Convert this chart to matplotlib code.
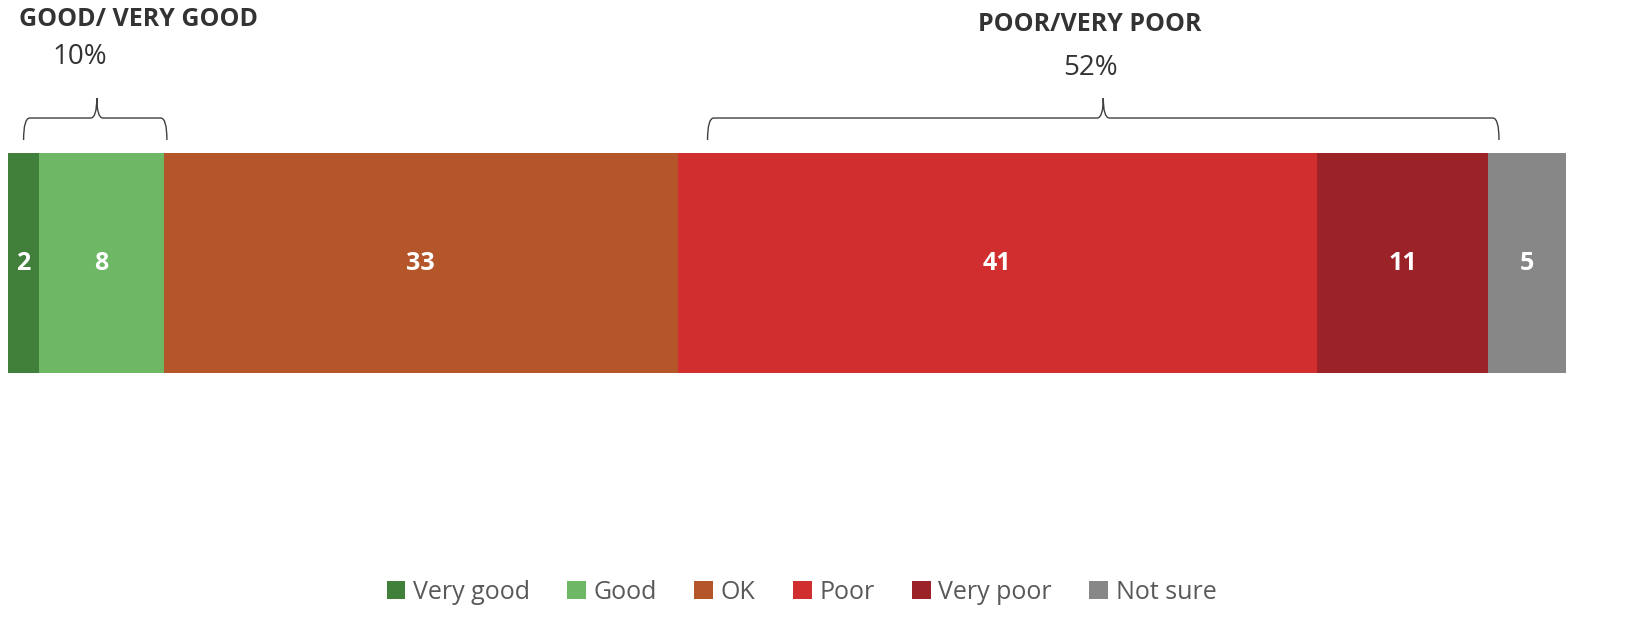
import matplotlib.pyplot as plt
import numpy as np
from matplotlib.path import Path
from matplotlib.patches import PathPatch

# data
categories = ["Very good", "Good", "OK", "Poor", "Very poor", "Not sure"]
values = [2, 8, 33, 41, 11, 5]
colors = ["#41803a", "#6eb865", "#b4552a", "#d12e30", "#9b2226", "#878787"]
group_labels = ["GOOD/ VERY GOOD", "POOR/VERY POOR"]
group_pcts = ["10%", "52%"]

plt.rcParams['font.family'] = ['Open Sans', 'DejaVu Sans']

fig = plt.figure(figsize=(16.29, 6.3), dpi=100)
ax = fig.add_axes([8/1629, 1-373/630, (1566-8)/1629, 220/630])

left = np.concatenate([[0], np.cumsum(values)[:-1]])
for c, v, l, col in zip(categories, values, left, colors):
    ax.barh([0], [v], left=[l], height=1, color=col, label=c)
    ax.text(l + v/2, 0, str(v), ha='center', va='center', color='white',
            fontsize=18, fontweight='bold')

ax.set_xlim(0, 100)
ax.set_ylim(-0.5, 0.5)
ax.axis('off')


def brace(x0, x1, xm, ylow=0.559, ytop=0.659, ytip=0.75, r=0.4):
    verts = [(x0, ylow), (x0, ytop), (x0 + r, ytop),
             (xm - r, ytop), (xm, ytop), (xm, ytip),
             (xm, ytop), (xm + r, ytop),
             (x1 - r, ytop), (x1, ytop), (x1, ylow)]
    codes = [Path.MOVETO, Path.CURVE3, Path.CURVE3,
             Path.LINETO, Path.CURVE3, Path.CURVE3,
             Path.CURVE3, Path.CURVE3,
             Path.LINETO, Path.CURVE3, Path.CURVE3]
    p = PathPatch(Path(verts, codes), fill=False, lw=1, color='#404040',
                  clip_on=False)
    ax.add_patch(p)


# groups: good (0-10), poor (43-95)
brace(1.0, 10.2, 5.7)
brace(44.9, 95.7, 70.3)

ax.text(8.4, 1.105, group_labels[0], ha='center', va='center', fontsize=18,
        fontweight='bold', color='#333333', clip_on=False)
ax.text(4.6, 0.936, group_pcts[0], ha='center', va='center', fontsize=20,
        color='#333333', clip_on=False)
ax.text(69.4, 1.082, group_labels[1], ha='center', va='center', fontsize=18,
        fontweight='bold', color='#333333', clip_on=False)
ax.text(69.5, 0.886, group_pcts[1], ha='center', va='center', fontsize=20,
        color='#333333', clip_on=False)

fig.legend(loc='center', bbox_to_anchor=(0.492, 0.06), ncol=6, frameon=False,
           fontsize=18, handlelength=0.75, handleheight=0.75, handletextpad=0.3,
           columnspacing=1.5, labelcolor='#595959')

fig.savefig("out.png", dpi=100)
